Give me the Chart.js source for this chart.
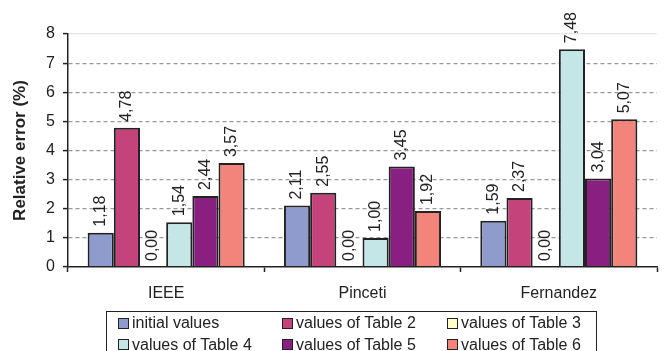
<!DOCTYPE html>
<html>
<head>
<meta charset="utf-8">
<script src="https://cdn.jsdelivr.net/npm/chart.js@4.4.1/dist/chart.umd.min.js"></script>
<style>
  html, body { margin: 0; padding: 0; background: #fff; overflow: hidden; }
  #wrap { position: relative; width: 666px; height: 351px; }
  #legend {
    position: absolute; left: 106px; top: 311px; width: 491px; height: 46px;
    border: 1.5px solid #222; box-sizing: border-box;
    display: grid; grid-template-columns: 164px 165px 150px;
    padding: 1px 0 0 11px;
    font: 16px "Liberation Sans", Arial, sans-serif; color: #222;
  }
  .item { display: flex; align-items: center; height: 20px; white-space: nowrap; }
  .sw { width: 9px; height: 9px; border: 1.5px solid #222; margin-right: 3px; }
</style>
</head>
<body>
<div id="wrap">
  <canvas id="c" width="666" height="351"></canvas>
  <div id="legend"></div>
</div>
<script>
// Categories and series
const categories = ["IEEE", "Pinceti", "Fernandez"];
const seriesLabels = [
  "initial values", "values of Table 2", "values of Table 3",
  "values of Table 4", "values of Table 5", "values of Table 6"
];
const initialValues = [1.18, 2.11, 1.59];
const table2Values  = [4.78, 2.55, 2.37];
const table3Values  = [0.00, 0.00, 0.00];
const table4Values  = [1.54, 1.00, 7.48];
const table5Values  = [2.44, 3.45, 3.04];
const table6Values  = [3.57, 1.92, 5.07];
const yTicks = [0, 1, 2, 3, 4, 5, 6, 7, 8];

const seriesValues = [initialValues, table2Values, table3Values, table4Values, table5Values, table6Values];
const seriesColors = ["#8e9bcc", "#c4437a", "#ffffcc", "#c4e6e6", "#8a1f82", "#f2847b"];

const FONT = '"Liberation Sans", Arial, sans-serif';
const INK = "#222";

// Rotated value labels above every bar, decimal comma
const valueLabels = {
  id: "valueLabels",
  afterDatasetsDraw(chart) {
    const ctx = chart.ctx;
    ctx.save();
    ctx.font = "16px " + FONT;
    ctx.fillStyle = INK;
    ctx.textAlign = "left";
    ctx.textBaseline = "middle";
    chart.data.datasets.forEach((ds, di) => {
      chart.getDatasetMeta(di).data.forEach((bar, i) => {
        const txt = ds.data[i].toFixed(2).replace(".", ",");
        ctx.save();
        ctx.translate(bar.x, bar.y - 6);
        ctx.rotate(-Math.PI / 2);
        ctx.fillText(txt, 0, 0);
        ctx.restore();
      });
    });
    ctx.restore();
  }
};

const chart = new Chart(document.getElementById("c"), {
  type: "bar",
  data: {
    labels: categories,
    datasets: seriesLabels.map((label, k) => ({
      label: label,
      data: seriesValues[k],
      backgroundColor: seriesColors[k],
      borderColor: INK,
      borderWidth: 2,
      borderSkipped: "bottom",
      categoryPercentage: 0.8,
      barPercentage: 1.0
    }))
  },
  options: {
    responsive: false,
    animation: false,
    layout: { padding: { top: 34, right: 9, left: 0, bottom: 0 } },
    plugins: { legend: { display: false }, tooltip: { enabled: false } },
    scales: {
      x: {
        afterFit: (s) => { s.height = 84; },
        grid: { drawOnChartArea: false, tickLength: 5, tickColor: INK, tickWidth: 1.5 },
        border: { color: INK, width: 1.5, z: 1 },
        ticks: { color: INK, padding: 12, font: { family: FONT, size: 16 } }
      },
      y: {
        min: 0, max: 8,
        afterFit: (s) => { s.width = 68; },
        afterBuildTicks: (s) => { s.ticks = yTicks.map(v => ({ value: v })); },
        grid: {
          tickLength: 5, tickColor: INK, tickWidth: 1.5,
          color: (c) => c.tick && c.tick.value === 8 ? "#e4e4e4" : (c.tick && c.tick.value === 0 ? "rgba(0,0,0,0)" : "#999"),
          lineWidth: 1.2
        },
        border: {
          color: INK, width: 1.5,
          dash: (c) => c.tick && c.tick.value === 8 ? [] : [4, 3]
        },
        ticks: { color: INK, padding: 8, font: { family: FONT, size: 16 } },
        title: {
          display: true, text: "Relative error (%)", color: INK,
          padding: { top: 10, bottom: 0 },
          font: { family: FONT, size: 17, weight: "bold" }
        }
      }
    }
  },
  plugins: [valueLabels]
});

// HTML legend in three columns, built from the datasets
document.getElementById("legend").innerHTML = chart.data.datasets.map(ds =>
  `<div class="item"><span class="sw" style="background:${ds.backgroundColor}"></span>${ds.label}</div>`
).join("");
</script>
</body>
</html>
